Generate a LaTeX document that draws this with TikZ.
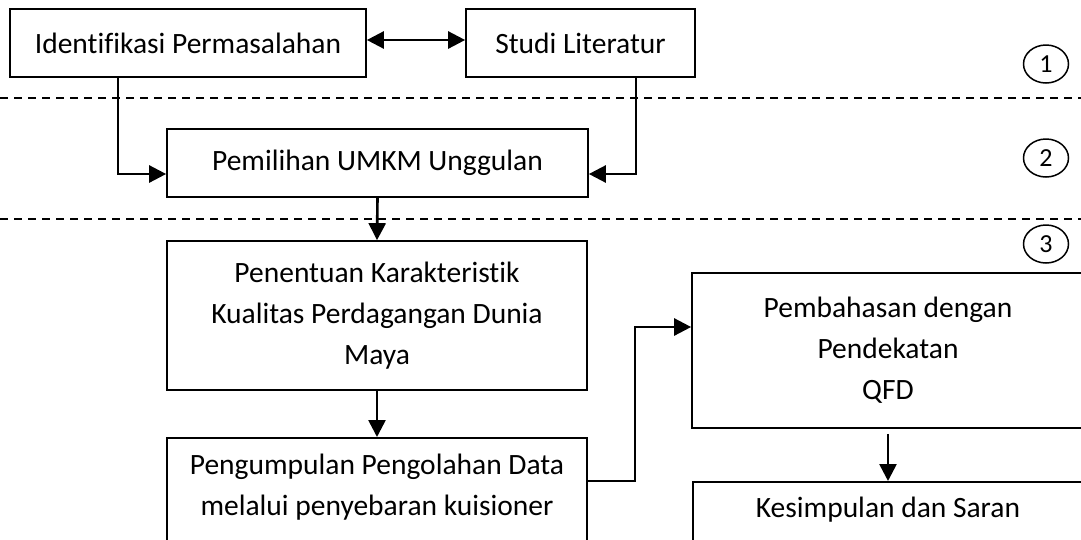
\documentclass[tikz,border=0pt]{standalone}
\usepackage{fontspec}
\setmainfont{Carlito}[Ligatures=NoCommon]
\usetikzlibrary{arrows.meta,shapes.geometric}
\begin{document}
\begin{tikzpicture}[x=1pt,y=-1pt,
  box/.style={draw, line width=1.7pt, inner sep=0pt, align=center, font=\fontsize{29.5}{41}\selectfont},
  txt/.style={inner sep=0pt, align=center, font=\fontsize{29.5}{41}\selectfont},
  tip/.tip={Triangle[length=17pt,width=17pt]},
  conn/.style={line width=2.6pt, -tip},
  dline/.style={line width=1.6pt, dash pattern=on 8pt off 6pt},
  num/.style={draw, ellipse, line width=1.5pt, minimum width=45pt, minimum height=38pt, inner sep=0pt, font=\fontsize{26}{30}\selectfont}]
\useasboundingbox (0,0) rectangle (1081,539);
\clip (0,0) rectangle (1081,539);
% dashed separators
\coordinate (d1a) at (0,98); \coordinate (d1b) at (1081,98);
\coordinate (d2a) at (0,219); \coordinate (d2b) at (1081,219);
\draw[dline] (d1a) -- (d1b);
\draw[dline] (d2a) -- (d2b);
% boxes
\node[box, minimum width=356pt, minimum height=68pt] (ident) at (188,43) {Identifikasi Permasalahan};
\node[box, minimum width=229pt, minimum height=68pt] (studi) at (580.5,43) {Studi Literatur};
\node[box, minimum width=421pt, minimum height=68pt] (pilih) at (377.5,163) {Pemilihan UMKM Unggulan};
\node[box, minimum width=420pt, minimum height=149pt] (tentu) at (377,315.5) {Penentuan Karakteristik\\Kualitas Perdagangan Dunia\\Maya};
\node[box, minimum width=420pt, minimum height=150pt, anchor=north] (kumpul) at (377,437) {};
\node[txt] (kumpulT) at (377,487) {Pengumpulan Pengolahan Data\\melalui penyebaran kuisioner};
\node[box, minimum width=392pt, minimum height=155pt] (bahas) at (888,350.5) {Pembahasan dengan\\Pendekatan\\QFD};
\node[box, minimum width=392pt, minimum height=100pt, anchor=north west] (simpul) at (692,481) {};
\node[txt] (simpulT) at (888,510) {Kesimpulan dan Saran};
% stage numbers
\node[num] (n1) at (1046,64) {1};
\node[num] (n2) at (1046,158) {2};
\node[num] (n3) at (1046,244) {3};
% connectors
\draw[line width=2.6pt, tip-tip] ([yshift=3pt]ident.east) -- ([yshift=3pt]studi.west);
\draw[conn] ([xshift=109pt]ident.south west) |- ([yshift=-11pt]pilih.west);
\draw[conn] ([xshift=55.5pt]studi.south) |- ([yshift=-11pt]pilih.east);
\draw[conn] (pilih.south) -- (tentu.north);
\draw[conn] (tentu.south) -- (kumpul.north);
\draw[conn] ([yshift=-44pt]kumpul.north east) -- ++(47,0) |- ([yshift=23.5pt]bahas.west);
\draw[conn] ([yshift=-5pt]bahas.south) -- (bahas.south |- simpul.north);
\end{tikzpicture}
\end{document}
